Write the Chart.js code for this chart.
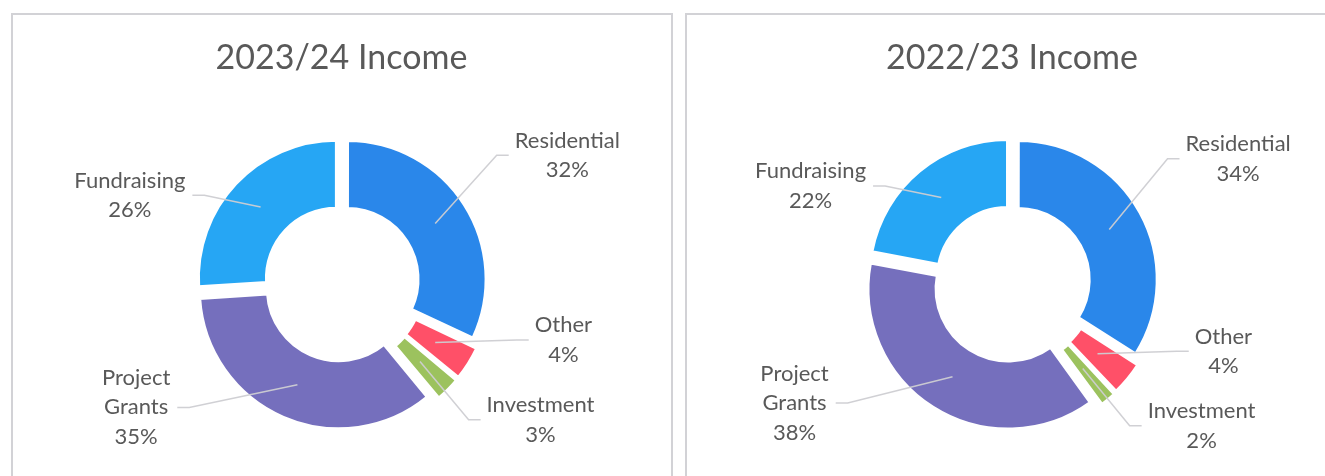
<!DOCTYPE html>
<html>
<head>
<meta charset="utf-8">
<script src="https://cdn.jsdelivr.net/npm/chart.js@4/dist/chart.umd.min.js"></script>
<style>
  html, body { margin: 0; padding: 0; background: #fff; overflow: hidden; }
  body { width: 1325px; height: 476px; position: relative; }
  .panel { position: absolute; top: 13px; height: 540px; box-sizing: border-box; border: 2px solid #d2d2d6; }
  #panel1 { left: 11px; width: 662px; }
  #panel2 { left: 685px; width: 700px; }
  canvas.pie { position: absolute; top: 13px; }
  #chart1 { left: 11px; }
  #chart2 { left: 685px; }
</style>
</head>
<body>
<div class="panel" id="panel1"></div>
<div class="panel" id="panel2"></div>
<canvas class="pie" id="chart1" width="661" height="540"></canvas>
<canvas class="pie" id="chart2" width="654" height="540"></canvas>
<script>
// categories, clockwise from 12 o'clock
const categories = ['Residential', 'Other', 'Investment', 'Project Grants', 'Fundraising'];
const income2324 = [32, 4, 3, 35, 26];
const income2223 = [34, 4, 2, 38, 22];
const colours = ['#2a87ea', '#ff5068', '#9cc25e', '#756fbd', '#26a6f4'];

// where each data label sits (angle clockwise from top, distance in outer radii)
const labelAngles2324 = [60.5, 104.4, 124.5, 238.8, 292.5];
const labelDist2324 = [1.88, 1.66, 1.75, 1.74, 1.66];
const labelAngles2223 = [61.2, 107.9, 127, 241.1, 295.7];
const labelDist2223 = [1.87, 1.61, 1.72, 1.80, 1.62];

// labels outside the ring with grey leader lines, Excel style
const leaderLabels = {
    id: 'leaderLabels',
    afterDatasetsDraw(chart, args, opts) {
        const ctx = chart.ctx;
        const ds = chart.data.datasets[0];
        const meta = chart.getDatasetMeta(0);
        const total = ds.data.reduce((a, b) => a + b, 0);
        const shift = (ds.offset || 0) / 4;
        const lh = 29.5;

        ctx.save();
        ctx.font = '22px Lato';
        ctx.textAlign = 'center';
        ctx.textBaseline = 'middle';

        meta.data.forEach((arc, i) => {
            const p = arc.getProps(['x', 'y', 'startAngle', 'endAngle', 'innerRadius', 'outerRadius'], true);
            const mid = (p.startAngle + p.endAngle) / 2;
            const rMid = shift + (p.innerRadius + p.outerRadius) / 2;
            const sx = p.x + Math.cos(mid) * rMid;
            const sy = p.y + Math.sin(mid) * rMid;

            const a = opts.angles[i] * Math.PI / 180;
            const d = opts.distances[i] * p.outerRadius;
            const lx = p.x + Math.sin(a) * d;
            const ly = p.y - Math.cos(a) * d;

            const lines = chart.data.labels[i].split(' ');
            lines.push(Math.round(ds.data[i] / total * 100) + '%');
            const w = Math.max(...lines.map(t => ctx.measureText(t).width));

            const right = lx > p.x;
            const ex = right ? lx - w / 2 - 6 : lx + w / 2 + 7;
            const kx = right ? ex - 12 : ex + 12;

            ctx.strokeStyle = 'rgba(205,205,210,0.95)';
            ctx.lineWidth = 1.5;
            ctx.beginPath();
            ctx.moveTo(sx, sy);
            ctx.lineTo(kx, ly);
            ctx.lineTo(ex, ly);
            ctx.stroke();

            ctx.fillStyle = '#595959';
            lines.forEach((t, j) => {
                ctx.fillText(t, lx, ly + (j - (lines.length - 1) / 2) * lh);
            });
        });
        ctx.restore();
    }
};

function makeChart(id, title, values, angles, distances) {
    return new Chart(document.getElementById(id), {
        type: 'doughnut',
        data: {
            labels: categories,
            datasets: [{
                data: values,
                backgroundColor: colours,
                borderColor: '#ffffff',
                borderWidth: 3,
                offset: 28,
                hoverOffset: 0
            }]
        },
        options: {
            responsive: false,
            animation: false,
            radius: 138,
            cutout: '50.7%',
            layout: { padding: { top: 0, bottom: 65.4, left: 0, right: 0 } },
            events: [],
            plugins: {
                legend: { display: false },
                tooltip: { enabled: false },
                title: {
                    display: true,
                    text: title,
                    color: '#595959',
                    font: { family: 'Lato', size: 34, weight: 'normal', lineHeight: 1.2 },
                    padding: { top: 24.6, bottom: 0 }
                },
                leaderLabels: { angles: angles, distances: distances }
            }
        },
        plugins: [leaderLabels]
    });
}

makeChart('chart1', '2023/24 Income', income2324, labelAngles2324, labelDist2324);
makeChart('chart2', '2022/23 Income', income2223, labelAngles2223, labelDist2223);
</script>
</body>
</html>
